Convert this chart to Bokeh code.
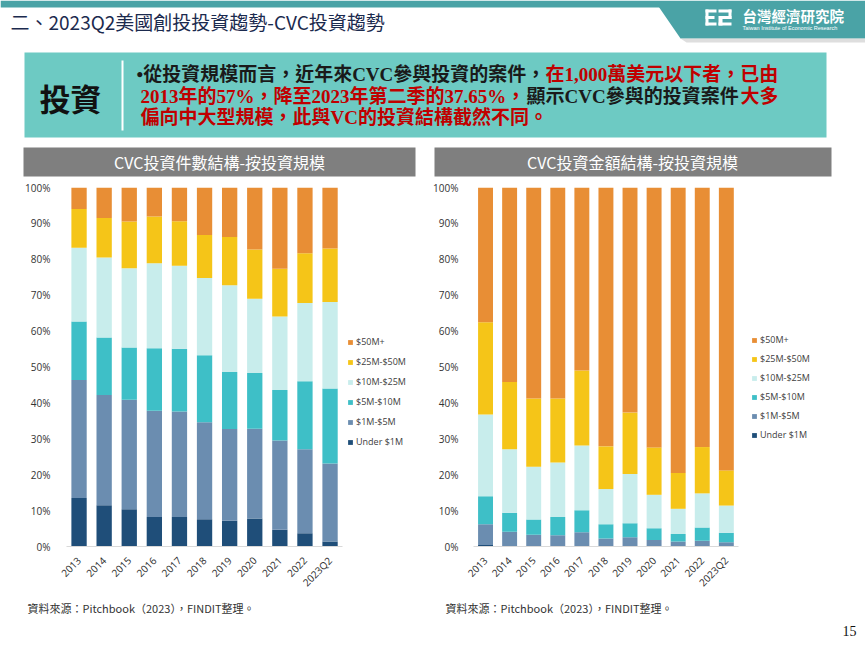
import math
from bokeh.plotting import figure
from bokeh.models import (Range1d, FixedTicker, PrintfTickFormatter,
                          Legend, LegendItem, ColumnDataSource)
from bokeh.layouts import column, row
from bokeh.embed import file_html
from bokeh.resources import INLINE
from bokeh.core.properties import value

# ---------------- data ----------------
years = ["2013", "2014", "2015", "2016", "2017", "2018", "2019", "2020", "2021", "2022", "2023Q2"]
size_classes = ["Under $1M", "$1M-$5M", "$5M-$10M", "$10M-$25M", "$25M-$50M", "$50M+"]
class_colors = ["#1F4E79", "#6B8DB0", "#3EBFC7", "#C8EDEC", "#F5C518", "#E88E35"]

# deal count share (%)
count_under_1m = [13.5, 11.5, 10.4, 8.2, 8.2, 7.6, 7.2, 7.8, 4.7, 3.7, 1.4]
count_1m_5m    = [32.9, 30.7, 30.5, 29.6, 29.4, 27.0, 25.5, 25.0, 24.8, 23.4, 21.7]
count_5m_10m   = [16.3, 16.0, 14.5, 17.4, 17.5, 18.7, 15.9, 15.5, 14.1, 18.9, 20.9]
count_10m_25m  = [20.5, 22.3, 22.1, 23.7, 23.1, 21.5, 24.2, 20.7, 20.5, 21.8, 24.1]
count_25m_50m  = [10.8, 11.0, 13.0, 13.0, 12.4, 12.0, 13.4, 13.7, 13.3, 13.9, 14.9]
count_50m_plus = [6.0, 8.5, 9.5, 8.1, 9.4, 13.2, 13.8, 17.3, 22.6, 18.3, 17.0]

# deal value share (%)
amount_under_1m = [0.4, 0.1, 0.1, 0.1, 0.1, 0.1, 0.1, 0.1, 0.1, 0.1, 0.1]
amount_1m_5m    = [5.8, 4.0, 3.2, 3.0, 3.9, 2.1, 2.5, 1.7, 1.3, 1.5, 1.1]
amount_5m_10m   = [7.8, 5.3, 4.2, 5.1, 6.1, 4.0, 3.9, 3.3, 2.1, 3.7, 2.6]
amount_10m_25m  = [22.8, 17.7, 14.7, 15.2, 18.0, 9.8, 13.7, 9.3, 7.0, 9.5, 7.6]
amount_25m_50m  = [25.7, 18.7, 19.0, 17.8, 20.9, 11.9, 17.1, 13.2, 10.0, 12.9, 9.8]
amount_50m_plus = [37.5, 54.2, 58.8, 58.8, 51.0, 72.1, 62.7, 72.4, 79.5, 72.3, 78.8]

y_ticks = [0, 10, 20, 30, 40, 50, 60, 70, 80, 90, 100]

slide_title = "二、2023Q2美國創投投資趨勢-CVC投資趨勢"
left_title = "CVC投資件數結構-按投資規模"
right_title = "CVC投資金額結構-按投資規模"
source_note = "資料來源：Pitchbook（2023），FINDIT整理。"
page_no = "15"

CJK = "Noto Sans CJK TC"
MIX = "Liberation Serif, Noto Sans CJK TC"
RED = "#C00000"
INK = "#1A1A1A"
TEAL = "#4AA3A6"


def blank(w, h, x0, x1, y0, y1):
    p = figure(width=w, height=h, x_range=Range1d(x0, x1), y_range=Range1d(y1, y0),
               output_backend="svg", toolbar_location=None, min_border=0,
               x_axis_location=None, y_axis_location=None)
    p.grid.visible = False
    p.outline_line_color = None
    return p


# ---------------- header ----------------
hdr = blank(865, 177, 0, 865, 0, 177)
hdr.quad(left=[0], right=[865], top=[0], bottom=[7], fill_color=TEAL, line_color=None)
# logo tab
hdr.patch([658, 865, 865, 680], [6, 6, 38, 38], fill_color=TEAL, line_color=None)
hdr.patch([680, 865, 865, 686], [38, 38, 42, 42], fill_color="#C8C8C8", fill_alpha=0.6, line_color=None)
# logo icon (simplified)
hdr.quad(left=[705, 705, 705, 705], right=[708, 716, 714, 716], top=[9, 9, 15.5, 22], bottom=[25, 12, 18.5, 25],
         fill_color="white", line_color=None)
hdr.quad(left=[718, 728, 720, 718, 718], right=[731, 731, 731, 722, 731], top=[9, 9, 15.5, 15.5, 22],
         bottom=[12, 18.5, 18.5, 25, 25], fill_color="white", line_color=None)
hdr.text(x=[742], y=[15], text=["台灣經濟研究院"], text_color="white", text_font=value(CJK),
         text_font_size="14.5px", text_font_style="bold", text_align="left", text_baseline="middle")
hdr.text(x=[742], y=[27], text=["Taiwan Institute of Economic Research"], text_color="white",
         text_font=value("Liberation Sans"), text_font_size="5.5px", text_align="left", text_baseline="middle")
# slide title
hdr.text(x=[10], y=[21], text=[slide_title], text_color="#1B2A4E", text_font=value(CJK),
         text_font_size="19px", text_align="left", text_baseline="middle")
# teal text box
hdr.quad(left=[24], right=[826], top=[52], bottom=[137], fill_color="#6DCAC3", line_color=None)
hdr.text(x=[70], y=[97], text=["投資"], text_color="#111111", text_font=value(CJK),
         text_font_size="31px", text_font_style="bold", text_align="center", text_baseline="middle")
hdr.segment(x0=[122], y0=[60], x1=[122], y1=[130], line_color="white", line_width=2)
hdr.text(x=[136, 526], y=[74, 96],
         text=["•從投資規模而言，近年來CVC參與投資的案件，", "顯示CVC參與的投資案件"],
         text_color=INK, text_font=value(MIX), text_font_size="19px", text_font_style="bold",
         text_align="left", text_baseline="middle")
hdr.text(x=[545, 140, 740, 140], y=[74, 96, 96, 117],
         text=["在1,000萬美元以下者，已由", "2013年的57%，降至2023年第二季的37.65%，", "大多",
               "偏向中大型規模，此與VC的投資結構截然不同。"],
         text_color=RED, text_font=value(MIX), text_font_size="19px", text_font_style="bold",
         text_align="left", text_baseline="middle")
# chart title bars
hdr.quad(left=[23, 434], right=[415, 831], top=[147, 147], bottom=[176, 176], fill_color="#7F7F7F", line_color=None)
hdr.text(x=[219, 632], y=[161.5, 161.5], text=[left_title, right_title], text_color="white",
         text_font=value(CJK), text_font_size="16px", text_align="center", text_baseline="middle")


# ---------------- charts ----------------
def chart(series, w, h, mb_l, mb_r, mb_t, mb_b, standoff, unit_px, leg_loc, lab_h, spc, bar_w):
    n = len(years)
    frame_w = w - mb_l - mb_r
    x_end = -0.5 + frame_w / unit_px
    p = figure(x_range=Range1d(-0.5, x_end), y_range=Range1d(0, 100),
               width=w, height=h, min_border_left=mb_l, min_border_right=mb_r,
               min_border_top=mb_t, min_border_bottom=mb_b,
               output_backend="svg", toolbar_location=None)
    data = {"pos": list(range(n)), "year": years}
    for name, vals in zip(size_classes, series):
        data[name] = vals
    src = ColumnDataSource(data)
    rs = p.vbar_stack(size_classes, x="pos", width=bar_w, color=class_colors, source=src, line_color=None)
    p.grid.visible = False
    p.outline_line_color = None

    p.yaxis.ticker = FixedTicker(ticks=y_ticks)
    p.yaxis.formatter = PrintfTickFormatter(format="%d%%")
    p.yaxis.axis_line_color = None
    p.yaxis.major_tick_line_color = None
    p.yaxis.minor_tick_line_color = None
    p.yaxis.major_label_standoff = standoff
    p.yaxis.major_label_text_font = "Open Sans"
    p.yaxis.major_label_text_font_size = "10px"
    p.yaxis.major_label_text_color = "#333333"

    p.xaxis.ticker = FixedTicker(ticks=list(range(n)))
    p.xaxis.major_label_overrides = {i: y for i, y in enumerate(years)}
    p.xaxis.bounds = (-0.5, n - 0.5)
    p.xaxis.major_label_orientation = math.pi / 4
    p.xaxis.major_tick_line_color = None
    p.xaxis.minor_tick_line_color = None
    p.xaxis.axis_line_color = "#D9D9D9"
    p.xaxis.major_label_standoff = 6
    p.xaxis.major_label_text_font = "Open Sans"
    p.xaxis.major_label_text_font_size = "10px"
    p.xaxis.major_label_text_color = "#2B2B2B"

    items = [LegendItem(label=nm, renderers=[r]) for nm, r in reversed(list(zip(size_classes, rs)))]
    leg = Legend(items=items, location=leg_loc, glyph_width=6, glyph_height=6, label_standoff=3,
                 label_height=lab_h, spacing=spc, padding=0, margin=0, border_line_color=None,
                 background_fill_alpha=0, label_text_font="Open Sans", label_text_font_size="9px",
                 label_text_color="#404040")
    p.add_layout(leg)
    return p


left = chart([count_under_1m, count_1m_5m, count_5m_10m, count_10m_25m, count_25m_50m, count_50m_plus],
             430, 420, 66, 6, 10, 43, 10, 25.1, (281, 98), 13, 7, 0.61)
right = chart([amount_under_1m, amount_1m_5m, amount_5m_10m, amount_10m_25m, amount_25m_50m, amount_50m_plus],
              435, 420, 43, 6, 6, 46, 9, 24.08, (278, 105), 13, 6, 0.62)

# ---------------- footer ----------------
ftr = blank(865, 52, 0, 865, 597, 649)
ftr.text(x=[27, 445], y=[607, 607], text=[source_note, source_note], text_color="#333333",
         text_font=value(CJK), text_font_size="11px", text_align="left", text_baseline="middle")
ftr.text(x=[856], y=[630], text=[page_no], text_color="#111111", text_font=value("Liberation Serif"),
         text_font_size="14px", text_align="right", text_baseline="middle")

page = column(hdr, row(left, right), ftr)
open("out.html", "w").write(file_html(page, INLINE))
